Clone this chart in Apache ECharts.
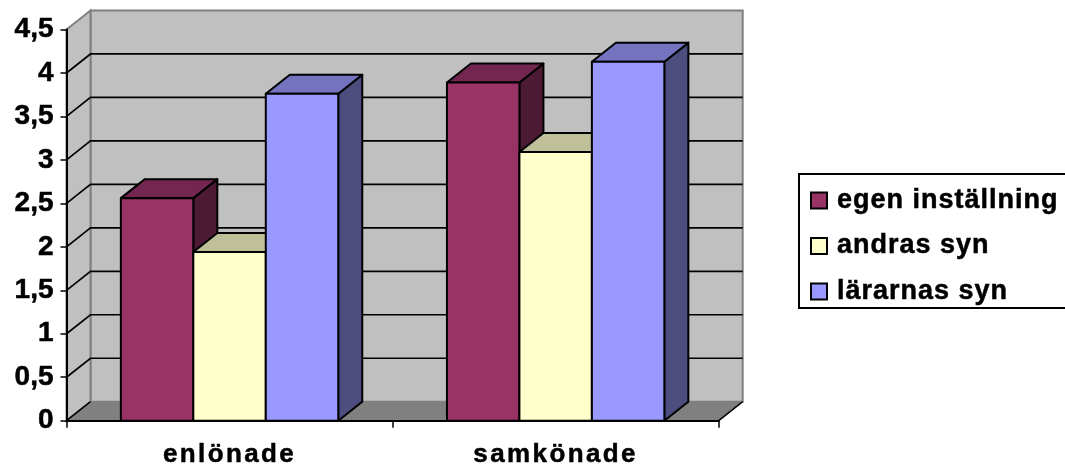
<!DOCTYPE html>
<html>
<head>
<meta charset="utf-8">
<style>html,body{margin:0;padding:0;background:#fff;overflow:hidden}#c{width:1065px;height:467px}</style>
<script src="https://cdn.jsdelivr.net/npm/echarts@6/dist/echarts.min.js"></script>
</head>
<body>
<div id="c"></div>
<script>
const categories = ['enlönade', 'samkönade'];
const egenInstallning = [2.56, 3.89];
const andrasSyn = [1.94, 3.09];
const lararnasSyn = [3.76, 4.13];
const yTicks = [0, 0.5, 1, 1.5, 2, 2.5, 3, 3.5, 4, 4.5];

// the reference's labels are slightly tracked; canvas tracking is applied at draw time
const proto = CanvasRenderingContext2D.prototype, ft = proto.fillText, st0 = proto.strokeText;
function track(ctx) {
  if (!('letterSpacing' in ctx)) return;
  const f = ctx.font;
  ctx.letterSpacing = f.indexOf('26px') >= 0 ? '2.4px' : f.indexOf('27px') >= 0 ? '1px' : '0px';
}
proto.fillText = function () { track(this); return ft.apply(this, arguments); };
proto.strokeText = function () { track(this); return st0.apply(this, arguments); };

const DX = 24, DY = -19;
const chart = echarts.init(document.getElementById('c'), null, {renderer: 'canvas'});

function wall(params, api) {
  const i = params.dataIndex, v = api.value(1);
  const band = api.size([1, 0])[0];
  const L = api.coord([0, 0])[0] - band / 2, R = L + band * categories.length;
  const y0 = api.coord([0, 0])[1], yT = api.coord([0, yTicks[yTicks.length - 1]])[1];
  const kids = [];
  if (i === 0) {
    const gray = {stroke: '#808080', lineWidth: 2};
    kids.push({type: 'polygon', shape: {points: [[L + DX, yT + DY], [R + DX, yT + DY], [R + DX, y0 + DY], [L + DX, y0 + DY]]}, style: {fill: '#C0C0C0', ...gray}});
    kids.push({type: 'polygon', shape: {points: [[L, yT], [L + DX, yT + DY], [L + DX, y0 + DY], [L, y0]]}, style: {fill: '#C0C0C0', ...gray}});
    kids.push({type: 'polygon', shape: {points: [[L, y0], [L + DX, y0 + DY], [R + DX, y0 + DY], [R, y0]]}, style: {fill: '#808080', stroke: '#808080', lineWidth: 1}});
    kids.push({type: 'line', shape: {x1: R, y1: y0, x2: R + DX, y2: y0 + DY}, style: {stroke: '#000', lineWidth: 1.5}});
    kids.push({type: 'line', shape: {x1: L, y1: y0, x2: L + DX, y2: y0 + DY}, style: {stroke: '#000', lineWidth: 1.5}});
  } else if (i < yTicks.length - 1) {
    const y = api.coord([0, v])[1];
    kids.push({type: 'polyline', shape: {points: [[L, y], [L + DX, y + DY], [R + DX, y + DY]]}, style: {fill: null, stroke: '#000', lineWidth: 1.7}});
  }
  return {type: 'group', children: kids};
}

function bar3d(slot, front, top, side) {
  return function (params, api) {
    const c = api.coord([api.value(0), api.value(1)]);
    const base = api.coord([api.value(0), 0]);
    const band = api.size([1, 0])[0], w = band / 4.5;
    const x = c[0] - 1.5 * w + slot * w, y = c[1], b = base[1];
    const st = {stroke: '#000', lineWidth: 2, lineJoin: 'round'};
    return {type: 'group', children: [
      {type: 'polygon', shape: {points: [[x + w, y], [x + w + DX, y + DY], [x + w + DX, b + DY], [x + w, b]]}, style: {fill: side, ...st}},
      {type: 'polygon', shape: {points: [[x, y], [x + DX, y + DY], [x + w + DX, y + DY], [x + w, y]]}, style: {fill: top, ...st}},
      {type: 'polygon', shape: {points: [[x, y], [x + w, y], [x + w, b], [x, b]]}, style: {fill: front, ...st}}
    ]};
  };
}

function barSeries(name, values, slot, front, top, side, z) {
  return {
    name, type: 'custom', coordinateSystem: 'cartesian2d', z, clip: false, silent: true,
    encode: {x: 0, y: 1},
    itemStyle: {color: front, borderColor: '#000', borderWidth: 2},
    renderItem: bar3d(slot, front, top, side),
    data: values.map((v, i) => [i, v])
  };
}

const heavy = {fontFamily: 'Liberation Sans', fontWeight: 'bold', color: '#000', textBorderColor: '#000', textBorderWidth: 0.5};

chart.setOption({
  animation: false,
  backgroundColor: '#fff',
  grid: {left: 66.5, top: 29.5, width: 652.2, height: 391.2, containLabel: false, outerBoundsMode: 'none'},
  legend: {
    data: ['egen inställning', 'andras syn', 'lärarnas syn'],
    orient: 'vertical', left: 799, top: 174,
    padding: [12, 80, 2, 11],
    backgroundColor: '#fff', borderColor: '#000', borderWidth: 2, borderRadius: 0,
    icon: 'rect', itemWidth: 16, itemHeight: 16, itemGap: 16.5,
    itemStyle: {borderColor: '#000', borderWidth: 2},
    selectedMode: false,
    textStyle: {...heavy, fontSize: 27, padding: [0, 0, 0, 5], lineHeight: 29}
  },
  xAxis: {
    type: 'category', data: categories, boundaryGap: true, z: 5,
    axisLine: {show: true, lineStyle: {color: '#000', width: 2}},
    axisTick: {show: true, length: 7, lineStyle: {color: '#000', width: 1.5}},
    axisLabel: {...heavy, fontSize: 26, margin: 21},
    splitLine: {show: false}
  },
  yAxis: {
    type: 'value', min: 0, max: 4.5, interval: 0.5, z: 5,
    axisLine: {show: true, onZero: false, lineStyle: {color: '#000', width: 2}},
    axisTick: {show: true, length: 6, lineStyle: {color: '#000', width: 1.5}},
    axisLabel: {...heavy, fontSize: 28, margin: 13, padding: [4, 0, 0, 0],
      formatter: v => String(v).replace('.', ',')},
    splitLine: {show: false}
  },
  series: [
    {name: 'wall', type: 'custom', coordinateSystem: 'cartesian2d', z: 1, clip: false, silent: true,
     encode: {x: 0, y: 1}, renderItem: wall, data: yTicks.map(t => [0, t])},
    barSeries('egen inställning', egenInstallning, 0, '#993366', '#732650', '#4D1A33', 2),
    barSeries('andras syn', andrasSyn, 1, '#FFFFCC', '#BFBF99', '#808066', 3),
    barSeries('lärarnas syn', lararnasSyn, 2, '#9999FF', '#7373BF', '#4D4D80', 4)
  ]
});
</script>
</body>
</html>
